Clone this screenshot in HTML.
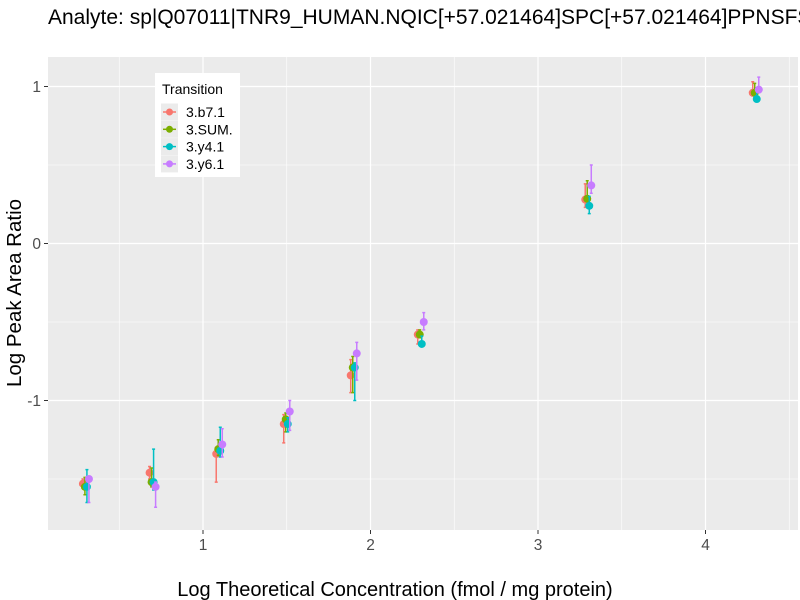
<!DOCTYPE html>
<html><head><meta charset="utf-8"><style>
body{margin:0;background:#fff;}
svg{display:block;font-family:"Liberation Sans",sans-serif;}
</style></head><body>
<svg id="chart" width="800" height="600">
<text x="48" y="24" font-size="21" fill="#000">Analyte: sp|Q07011|TNR9_HUMAN.NQIC[+57.021464]SPC[+57.021464]PPNSFSSAGGQR</text>
<rect x="48" y="57" width="750" height="473" fill="#ebebeb"/>
<g id="grid"></g>
<g id="marks"></g>
<text x="395" y="596" font-size="20" text-anchor="middle" fill="#000">Log Theoretical Concentration (fmol / mg protein)</text>
<text transform="translate(21,293) rotate(-90)" font-size="20.5" text-anchor="middle" fill="#000">Log Peak Area Ratio</text>
<g>
<rect x="155" y="73" width="85" height="104" fill="#fff"/>
<text x="162" y="94" font-size="14" fill="#000">Transition</text>
<g id="legend"></g>
</g>
</svg>
<script>
const xs = [0.301, 0.699, 1.097, 1.5, 1.9, 2.3, 3.3, 4.3];
const seriesNames = ["3.b7.1", "3.SUM.", "3.y4.1", "3.y6.1"];
const b7 = [-1.53, -1.46, -1.34, -1.15, -0.84, -0.58, 0.28, 0.96];
const b7Lo = [-1.56, -1.50, -1.52, -1.27, -0.95, -0.64, 0.23, 0.94];
const b7Hi = [-1.50, -1.42, -1.30, -1.09, -0.74, -0.55, 0.38, 1.03];
const sum = [-1.55, -1.52, -1.31, -1.12, -0.79, -0.58, 0.285, 0.96];
const sumLo = [-1.60, -1.55, -1.35, -1.20, -0.95, -0.60, 0.24, 0.93];
const sumHi = [-1.49, -1.43, -1.25, -1.08, -0.72, -0.55, 0.40, 1.02];
const y4 = [-1.55, -1.52, -1.32, -1.15, -0.79, -0.64, 0.24, 0.92];
const y4Lo = [-1.65, -1.57, -1.36, -1.20, -1.00, -0.65, 0.19, 0.91];
const y4Hi = [-1.44, -1.31, -1.17, -1.11, -0.76, -0.59, 0.30, 0.99];
const y6 = [-1.50, -1.55, -1.28, -1.07, -0.70, -0.50, 0.37, 0.98];
const y6Lo = [-1.65, -1.68, -1.36, -1.19, -0.87, -0.55, 0.32, 0.96];
const y6Hi = [-1.50, -1.52, -1.18, -1.00, -0.63, -0.44, 0.50, 1.06];
const xTicks = [1, 2, 3, 4];
const yTicks = [-1, 0, 1];

const colors = ["#F8766D", "#7CAE00", "#00BFC4", "#C77CFF"];
const series = [[b7,b7Lo,b7Hi],[sum,sumLo,sumHi],[y4,y4Lo,y4Hi],[y6,y6Lo,y6Hi]];
const X = v => 203 + (v - 1) * 167.5;
const Y = v => 243.5 - v * 157;
const NS = "http://www.w3.org/2000/svg";
function mk(tag, attrs, parent){const e=document.createElementNS(NS,tag);for(const k in attrs)e.setAttribute(k,attrs[k]);parent.appendChild(e);return e;}
const grid = document.getElementById('grid');
const svg = document.getElementById('chart');
[0.5,1.5,2.5,3.5,4.5].forEach(v=>{const l=mk('line',{x1:X(v),x2:X(v),y1:57,y2:530,stroke:'#fff','stroke-width':0.6},grid);

});
[-1.5,-0.5,0.5].forEach(v=>{const l=mk('line',{x1:48,x2:798,y1:Y(v),y2:Y(v),stroke:'#fff','stroke-width':0.6},grid);

});
xTicks.forEach(v=>{const l=mk('line',{x1:X(v),x2:X(v),y1:57,y2:530,stroke:'#fff','stroke-width':1.2},grid);


mk('line',{x1:X(v),x2:X(v),y1:530,y2:534,stroke:'#333','stroke-width':1},svg);
const t=mk('text',{x:X(v),y:550,'font-size':15.5,'text-anchor':'middle',fill:'#4d4d4d'},svg);t.textContent=v;

});
yTicks.forEach(v=>{const l=mk('line',{x1:48,x2:798,y1:Y(v),y2:Y(v),stroke:'#fff','stroke-width':1.2},grid);


mk('line',{x1:44,x2:48,y1:Y(v),y2:Y(v),stroke:'#333','stroke-width':1},svg);
const t=mk('text',{x:41,y:Y(v)+5.5,'font-size':15.5,'text-anchor':'end',fill:'#4d4d4d'},svg);t.textContent=v;

});
const marks = document.getElementById('marks');
const offs = [-0.018,-0.006,0.006,0.018];
series.forEach((s,i)=>{
  const g=mk('g',{},marks);
  
  
  xs.forEach((xv,j)=>{
    const x=X(xv+offs[i]);
    const eb=mk('path',{d:`M${x-1.5},${Y(s[2][j])}H${x+1.5}M${x},${Y(s[2][j])}V${Y(s[1][j])}M${x-1.5},${Y(s[1][j])}H${x+1.5}`,stroke:colors[i],'stroke-width':1.5,fill:'none'},g);
    
    
    const c=mk('circle',{cx:x,cy:Y(s[0][j]),r:4,fill:colors[i]},g);
    
    
  });
});
const leg=document.getElementById('legend');
seriesNames.forEach((n,i)=>{
  const y=112+i*17.3;
  const e=mk('g',{},leg);
  
  
  mk('rect',{x:161,y:y-8.5,width:17,height:17,fill:'#ebebeb'},e);
  mk('line',{x1:163,x2:176,y1:y,y2:y,stroke:colors[i],'stroke-width':1.5},e);
  mk('circle',{cx:169.5,cy:y,r:3.5,fill:colors[i]},e);
  const t=mk('text',{x:186,y:y+5,'font-size':14,fill:'#000'},e);t.textContent=n;
});
</script>
</body></html>
